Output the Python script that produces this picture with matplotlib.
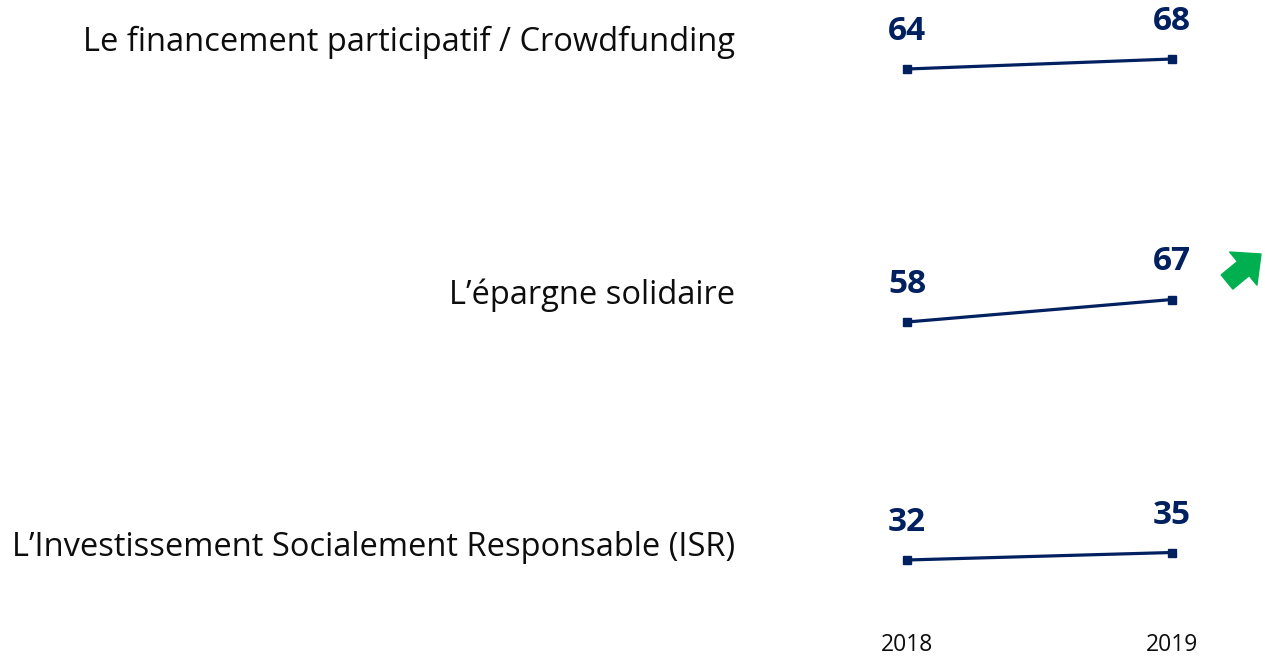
import matplotlib
matplotlib.use("Agg")
import matplotlib.pyplot as plt

# data
years = [2018, 2019]
labels = [
    "Le financement participatif / Crowdfunding",
    "L\u2019épargne solidaire",
    "L\u2019Investissement Socialement Responsable (ISR)",
]
values = [
    [64, 68],
    [58, 67],
    [32, 35],
]

NAVY = "#002060"
GREEN = "#00B050"
W, H = 1265, 658

plt.rcParams["font.family"] = ["Open Sans", "DejaVu Sans"]

fig = plt.figure(figsize=(W / 100, H / 100), dpi=100)

# pixel row where value 0 falls for each row (axes are 250 px tall for 0..100)
zero_rows = [229, 467, 640]
# pixel row of the centre of each text label (evenly spaced)
label_rows = [42, 295, 548]
ax_left = 774.5 / W
ax_width = 530 / W

axes = []
for i, (lab, vals) in enumerate(zip(labels, values)):
    bottom = (H - zero_rows[i]) / H
    ax = fig.add_axes([ax_left, bottom, ax_width, 250 / H])
    ax.set_xlim(2017.5, 2019.5)
    ax.set_ylim(0, 100)
    ax.plot(years, vals, color=NAVY, linewidth=2.3, marker="s",
            markersize=6, clip_on=False)
    for x, v in zip(years, vals):
        ax.annotate(str(v), (x, v), xytext=(0, 27), textcoords="offset points",
                    ha="center", va="center", fontsize=24, fontweight="bold",
                    color=NAVY)
    for s in ax.spines.values():
        s.set_visible(False)
    ax.set_yticks([])
    ax.set_xticks([])
    ax.patch.set_visible(False)
    axes.append(ax)

    # row label on the left, right-aligned
    fig.text(735 / W, 1 - label_rows[i] / H, lab, ha="right", va="center",
             fontsize=23.5, color="#0d0d0d")

# year labels under the last row
ax3 = axes[-1]
ax3.set_xticks(years)
ax3.set_xticklabels([str(y) for y in years], fontsize=16.5, color="#0d0d0d")
ax3.tick_params(axis="x", length=0, pad=-5)

# green trend arrow next to second row
fig.add_artist(plt.Annotation(
    "", xy=(1261, 404), xytext=(1227, 376), xycoords="figure pixels",
    textcoords="figure pixels",
    arrowprops=dict(arrowstyle="simple,head_length=0.75,head_width=1.4,tail_width=0.6",
                    mutation_scale=22, color=GREEN, shrinkA=0, shrinkB=0)))

fig.savefig("out.png", dpi=100)
